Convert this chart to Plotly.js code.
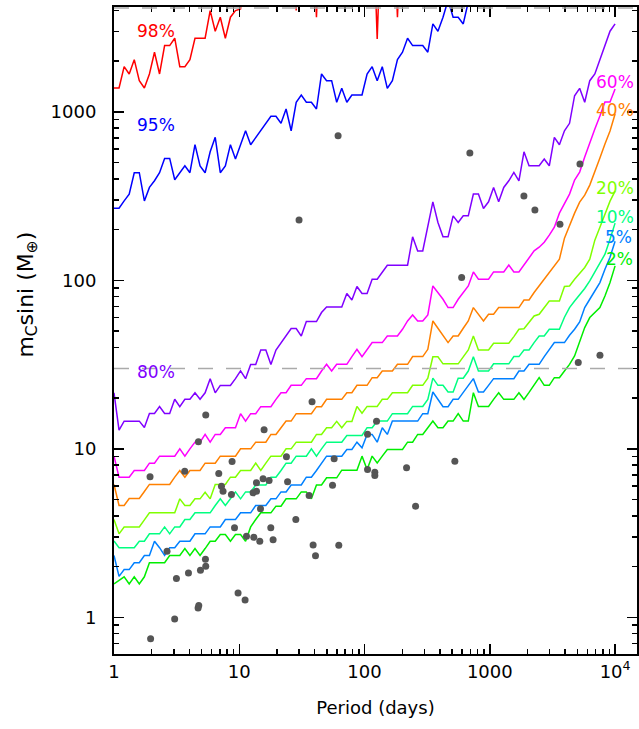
<!DOCTYPE html>
<html>
<head>
<meta charset="utf-8">
<script src="https://cdn.plot.ly/plotly-3.0.1.min.js"></script>
<style>html,body{margin:0;padding:0;background:#fff;}#chart{width:639px;height:729px;}</style>
</head>
<body>
<div id="chart"></div>
<script>
// Period grid (days) on which the detection-limit curves are sampled
const periods = [1, 1.097, 1.205, 1.322, 1.451, 1.592, 1.748, 1.918, 2.105, 2.310,
  2.535, 2.783, 3.054, 3.352, 3.679, 4.037, 4.431, 4.863, 5.337, 5.857,
  6.428, 7.055, 7.743, 8.498, 9.326, 10.24, 11.23, 12.33, 13.53, 14.85,
  16.30, 17.89, 19.63, 21.54, 23.64, 25.95, 28.48, 31.26, 34.31, 37.65,
  41.32, 45.35, 49.77, 54.62, 59.95, 65.79, 72.21, 79.25, 86.98, 95.46,
  104.8, 115.0, 126.2, 138.5, 152.0, 166.8, 183.1, 200.9, 220.5, 242.0,
  265.6, 291.5, 320.0, 351.1, 385.4, 423.0, 464.2, 509.5, 559.2, 613.7,
  673.5, 739.2, 811.3, 890.4, 977.2, 1072, 1177, 1292, 1418, 1556,
  1708, 1874, 2057, 2257, 2477, 2719, 2984, 3275, 3594, 3944,
  4329, 4751, 5214, 5722, 6280, 6893, 7565, 8302, 9112, 10000];

// Detection-limit curves, m sin i (Earth masses)
const lim98 = [1385,1385,1854,1677,2040,1530,1385,1677,2257,1677,
  2471,2471,2734,1854,1854,2040,2734,2734,2734,3988,
  3008,3643,2734,3643,3988,4082,8000,20000,20000,20000,
  20000,20000,20000,20000,20000,20000,3990,20000,20000,20000,
  3643,20000,20000,20000,20000,20000,20000,20000,20000,20000,
  20000,20000,2708,20000,20000,20000,3643,20000,20000,20000];
const lim95 = [268,268,296,325,435,435,296,356,390,435,
  529,529,395,435,478,435,638,478,435,579,
  706,435,478,638,524,638,772,638,706,772,
  855,940,940,855,1039,772,1139,1259,1139,1139,
  1039,1677,1530,1530,1139,1379,1139,1259,1259,1259,
  1677,1854,1530,1854,1379,1530,2040,2257,2734,2471,
  2471,2471,2257,3323,3008,3643,4600,3643,3643,3323,
  4500,8000];
const lim80 = [21.5,12.9,14.6,14.6,14.6,14.6,13.4,16.2,16.2,17.8,
  16.2,16.2,19.7,17.8,19.7,19.7,21.5,19.7,21.5,26.1,
  21.5,23.8,23.8,23.8,26.1,29.0,26.1,31.7,31.7,38.6,
  38.6,31.7,38.6,42.7,46.7,51.7,51.7,46.7,56.9,56.9,
  56.9,64.4,69.5,69.5,69.5,69.5,83.5,76.4,91.9,83.5,
  83.5,101.5,101.5,111.7,122.9,122.9,122.9,122.9,122.9,181.1,
  149.5,149.5,209.6,292.3,220.5,181.1,181.1,241.3,220.5,241.3,
  241.3,324.8,324.8,267.1,292.3,355.9,292.3,355.9,389.5,437.0,
  389.5,579.4,478.3,478.3,478.3,524.3,478.3,705.6,637.7,772.1,
  854.5,1246,1379,1139,1530,1677,2059,2471,3008,3323];
const lim60 = [9.05,6.79,6.79,6.79,7.44,7.44,7.44,8.22,8.22,9.05,
  9.05,9.05,9.05,10.0,9.05,10.0,10.96,10.96,12.18,10.96,
  12.18,12.18,13.35,13.35,13.35,16.17,14.61,16.17,16.17,17.79,
  17.79,17.79,19.66,21.54,21.54,23.81,23.81,23.81,26.10,26.10,
  26.10,28.95,31.73,28.95,31.73,31.73,31.73,35.26,38.96,35.26,
  38.96,42.71,42.71,42.71,46.72,46.72,46.72,51.21,57.38,62.31,
  57.38,57.38,62.31,92.6,84.6,77.2,68.9,68.9,77.2,84.6,
  92.6,112.2,101.5,101.5,101.5,112.2,112.2,112.2,123.4,112.2,
  112.2,123.4,136.6,149.5,157.3,168.4,185.3,206.8,250.4,287.2,
  324.8,393.3,438.8,538.8,661.6,790.3,944.1,1144,1144,1366];
const lim40 = [6.15,4.61,4.61,5.07,5.07,5.07,5.58,6.15,6.15,6.15,
  6.15,6.15,6.79,7.44,6.79,7.44,7.44,7.44,8.22,8.22,
  8.22,9.05,9.05,9.05,9.05,10.0,10.0,10.0,10.96,10.96,
  10.96,12.18,12.18,13.35,14.61,14.61,16.17,16.17,16.17,16.17,
  17.79,17.79,19.66,19.66,19.66,19.66,21.54,21.54,23.81,23.81,
  23.81,26.45,26.45,28.95,28.95,28.95,31.73,31.73,31.73,35.26,
  35.26,35.26,38.96,57.38,51.93,47.18,42.71,46.72,46.72,51.93,
  57.38,68.9,62.91,57.38,62.91,62.91,68.9,68.9,68.9,68.9,
  68.9,76.44,76.44,84.6,92.6,101.5,111.3,121.8,133.5,178,
  212.5,250.4,291.1,320.3,367.4,438.8,531.5,643.9,769,970];
const lim20 = [3.81,3.13,3.44,3.44,3.44,3.44,3.79,4.17,4.17,4.17,
  4.17,4.17,4.17,5.05,4.61,4.61,5.05,5.05,5.53,5.05,
  6.15,6.15,6.15,6.79,6.79,7.44,7.44,7.44,8.22,7.44,
  8.22,9.05,9.05,9.05,10.0,10.0,10.96,10.96,10.96,10.96,
  12.18,12.18,13.35,13.35,14.55,13.35,14.55,14.55,17.86,16.27,
  17.86,17.86,17.86,19.66,19.66,21.54,21.54,21.54,21.54,23.81,
  23.81,23.81,26.27,35.16,35.16,31.95,31.95,31.95,31.95,35.16,
  38.60,46.72,38.60,38.60,38.60,42.30,42.30,42.30,42.30,46.35,
  51.21,51.57,56.59,61.45,62.91,68.9,75.43,75.43,75.43,91.88,
  92.6,101.5,110.2,119.2,133.5,173.1,206.8,247.0,295.1,338.2];
const lim10 = [2.84,2.59,2.59,2.59,2.59,2.83,2.83,3.13,3.13,3.13,
  3.44,3.13,3.44,3.44,3.81,3.81,4.17,4.17,4.17,4.17,
  4.61,5.05,4.61,5.05,5.55,5.05,5.55,5.55,6.10,6.10,
  6.10,6.79,6.79,7.44,8.22,8.22,9.05,9.05,9.05,10.0,
  9.05,10.0,10.96,10.96,10.96,10.96,12.01,12.01,12.01,12.01,
  13.35,13.35,14.61,14.61,14.61,16.17,16.17,16.17,16.17,17.86,
  17.86,17.86,19.66,26.27,23.81,23.81,21.73,21.73,26.27,26.27,
  28.95,35.16,28.95,28.95,28.95,31.95,31.95,31.95,31.95,35.26,
  35.26,38.60,38.60,42.71,46.72,46.72,51.21,51.21,51.21,60.37,
  68.9,75.43,81.55,89.41,99.18,112.2,127.5,142.9,175.5,218.5];
const lim5 = [2.33,1.75,1.92,1.92,2.11,2.11,2.33,2.33,2.83,2.59,
  2.33,2.59,2.59,2.83,2.83,2.83,3.13,3.13,3.13,3.44,
  3.44,3.44,3.81,3.81,3.81,4.17,4.17,4.17,4.61,4.61,
  4.61,5.05,5.05,5.55,5.55,6.10,6.10,6.10,6.79,6.79,
  7.44,8.22,9.05,9.05,9.05,9.05,9.92,9.92,10.96,10.15,
  12.18,12.18,10.96,13.35,12.18,14.61,14.61,14.61,14.61,14.61,
  14.61,16.17,16.17,21.73,19.66,17.79,17.79,19.66,19.66,21.63,
  23.81,26.10,21.73,21.73,23.81,26.10,26.10,26.10,26.10,26.10,
  28.95,28.95,31.73,31.73,31.73,35.26,38.80,42.71,42.71,42.71,
  47.18,51.21,56.59,68.9,77.2,86.5,97.0,116.4,137.2,170.8];
const lim2 = [1.58,1.66,1.74,1.58,1.74,1.58,1.74,2.11,2.11,2.11,
  2.11,2.33,2.33,2.33,2.56,2.33,2.56,2.33,2.56,2.83,
  2.83,3.10,3.10,2.83,3.10,3.10,2.83,3.44,3.81,4.17,
  4.17,4.17,4.57,4.57,5.05,5.05,5.05,5.55,5.55,5.05,
  6.10,6.10,6.73,6.73,6.73,7.47,7.47,7.47,7.47,9.05,
  7.54,9.05,8.25,9.05,9.92,9.92,9.92,9.92,10.96,10.96,
  12.18,12.18,13.35,14.61,13.35,13.35,14.61,14.61,16.17,14.61,
  14.61,21.54,17.86,17.86,17.86,19.66,21.54,19.66,19.66,19.66,
  21.54,19.66,21.63,23.81,26.45,23.81,23.81,26.45,26.45,28.95,
  31.73,35.55,42.71,52.43,60.12,64.66,68.9,80.78,97.0,121.8];

// Detected planets
const planetP = [30.0, 61.5, 693, 1872, 2291, 3631, 5244, 596, 5082, 7573,
  124.7, 105.7, 57.2, 105.7, 120.8, 120.8, 216.5, 526, 55.5, 62.3,
  255.5, 38.1, 5.40, 15.78, 4.72, 1.94, 3.67, 8.76, 6.86, 23.8,
  24.3, 13.72, 15.49, 17.3, 7.21, 7.42, 8.66, 12.89, 13.72, 14.77,
  9.16, 17.85, 28.28, 36.1, 11.42, 13.06, 14.58, 18.62, 38.86, 40.6,
  2.65, 5.37, 1.96, 3.05, 4.69, 4.75, 9.78, 11.13, 3.15, 3.93,
  4.90, 5.40];
const planetM = [228, 721, 569, 317, 261, 215, 490, 104, 32.5, 35.9,
  14.6, 12.2, 8.73, 7.54, 7.27, 6.95, 7.72, 8.45, 6.09, 2.68,
  4.57, 19.05, 15.86, 12.99, 11.02, 6.83, 7.37, 8.42, 7.14, 8.98,
  6.38, 6.29, 6.64, 6.49, 6.00, 5.61, 5.36, 5.48, 5.61, 4.41,
  3.40, 3.40, 3.81, 5.29, 3.03, 2.99, 2.83, 2.89, 2.69, 2.32,
  2.47, 2.21, 0.747, 0.978, 1.137, 1.174, 1.396, 1.269, 1.698, 1.836,
  1.902, 2.01];

// Reference mass levels (Earth masses)
const refLevels = [30, 4131];

const curveNames = ['98%', '95%', '80%', '60%', '40%', '20%', '10%', '5%', '2%'];
const curveData = [lim98, lim95, lim80, lim60, lim40, lim20, lim10, lim5, lim2];
const curveColors = ['#ff0000', '#0000ff', '#8000ff', '#ff00ff', '#ff8000', '#80ff00', '#00ff80', '#0080ff', '#00ee00'];
// label anchor positions (log10 period, log10 mass)
const labelX = [0.333, 0.333, 0.333, 3.999, 3.999, 3.999, 3.999, 4.031, 4.039];
const labelY = [3.480, 2.922, 1.454, 3.177, 3.011, 2.547, 2.374, 2.256, 2.125];

const FONT = 'DejaVu Sans, sans-serif';

const traces = curveData.map((arr, k) => ({
  type: 'scatter', mode: 'lines', name: curveNames[k],
  x: periods.slice(0, arr.length), y: arr,
  line: {color: curveColors[k], width: 1.5},
  hoverinfo: 'skip'
}));
traces.push({
  type: 'scatter', mode: 'markers', name: 'planets',
  x: planetP, y: planetM,
  marker: {color: '#555555', size: 7, line: {width: 0}}
});

function minorVals(lo, hi) {
  const v = [];
  for (let d = lo; d <= hi; d++) {
    for (let m = 2; m <= 9; m++) v.push(m * Math.pow(10, d));
  }
  return v;
}

const annotations = curveNames.map((n, k) => ({
  text: n, x: labelX[k], y: labelY[k], xref: 'x', yref: 'y',
  showarrow: false, xanchor: 'center', yanchor: 'middle',
  font: {family: FONT, size: 17, color: curveColors[k]}
}));
annotations.push({
  text: 'm<sub>C</sub>sini (M<sub>⊕</sub>)', textangle: -90,
  xref: 'paper', yref: 'paper', x: -0.165, y: 0.555,
  xanchor: 'center', yanchor: 'middle', showarrow: false,
  font: {family: FONT, size: 22, color: '#000'}
});

const shapes = refLevels.map(v => ({
  type: 'line', xref: 'paper', x0: 0, x1: 1, yref: 'y', y0: v, y1: v,
  line: {color: '#aaaaaa', width: 1.5, dash: '15px,13px'}, layer: 'above'
}));

const layout = {
  width: 639, height: 729,
  margin: {l: 114, r: 2, t: 7, b: 75},
  paper_bgcolor: '#ffffff', plot_bgcolor: '#ffffff',
  showlegend: false,
  font: {family: FONT, color: '#000'},
  xaxis: {
    type: 'log', range: [0, 4.175],
    showline: true, linecolor: '#000', linewidth: 2, mirror: 'ticks',
    ticks: 'inside', ticklen: 10, tickwidth: 1.5, tickcolor: '#000',
    tickmode: 'array',
    tickvals: [1, 10, 100, 1000, 10000],
    ticktext: ['1', '10', '100', '1000', '10<sup>4</sup>'],
    tickfont: {family: FONT, size: 18, color: '#000'},
    ticklabelstandoff: 0,
    showgrid: false, zeroline: false,
    minor: {tickmode: 'array', tickvals: minorVals(0, 4), ticks: 'inside', ticklen: 5, tickwidth: 1.5, tickcolor: '#000', showgrid: false},
    title: {text: 'Period (days)', font: {family: FONT, size: 18, color: '#000'}, standoff: 21}
  },
  yaxis: {
    type: 'log', range: [-0.2175, 3.622],
    showline: true, linecolor: '#000', linewidth: 2, mirror: 'ticks',
    ticks: 'inside', ticklen: 10, tickwidth: 1.5, tickcolor: '#000',
    tickmode: 'array',
    tickvals: [1, 10, 100, 1000],
    ticktext: ['1', '10', '100', '1000'],
    tickfont: {family: FONT, size: 18, color: '#000'},
    ticklabelstandoff: 12,
    showgrid: false, zeroline: false,
    minor: {tickmode: 'array', tickvals: minorVals(-1, 3), ticks: 'inside', ticklen: 5, tickwidth: 1.5, tickcolor: '#000', showgrid: false}
  },
  annotations: annotations,
  shapes: shapes
};

Plotly.newPlot('chart', traces, layout, {staticPlot: true, displayModeBar: false});
</script>
</body>
</html>
